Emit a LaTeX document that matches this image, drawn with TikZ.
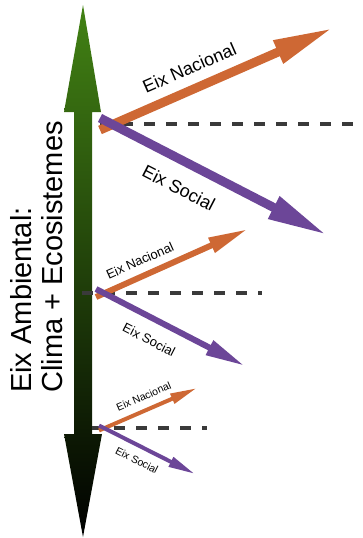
\documentclass[tikz,border=0pt]{standalone}
\usepackage{fontspec}
\setmainfont{Liberation Sans}
\usetikzlibrary{arrows.meta}
\definecolor{ambgreen}{RGB}{66,130,20}
\definecolor{nacorange}{RGB}{206,104,52}
\definecolor{socpurple}{RGB}{108,70,152}
\definecolor{dashgray}{RGB}{58,58,58}
\tikzset{
  eix/.style n args={3}{line width=#1pt, -{Triangle[length=#2pt,width=#3pt]}},
  nac/.style={draw=nacorange, fill=nacorange},
  soc/.style={draw=socpurple, fill=socpurple},
  fita/.style={draw=dashgray, line width=#1pt, dash pattern=on 11pt off 11pt},
}
\begin{document}
\begin{tikzpicture}[x=1pt,y=-1pt]
\useasboundingbox (0,0) rectangle (362,538);
% eix ambiental
\shade[top color=ambgreen, bottom color=black]
  (83,5) -- (101,112) -- (92,112) -- (92,434) -- (102,434) -- (83,537)
  -- (64,434) -- (74,434) -- (74,112) -- (64,112) -- cycle;
\node[rotate=90, anchor=west, align=left, inner sep=0pt,
  font=\fontsize{29}{31}\selectfont] (amb) at (37,393)
  {Eix Ambiental:\\Clima + Ecosistemes};
% punts
\coordinate (o1) at (100,124);
\coordinate (o2) at (96,293);
\coordinate (o3) at (99,428);
\coordinate (n1) at (333,28);
\coordinate (s1) at (327,235);
\coordinate (n2) at (248,229);
\coordinate (s2) at (245,366);
\coordinate (n3) at (197,388);
\coordinate (s3) at (195,474);
\coordinate (f1) at (362,124);
\coordinate (f2) at (262,293);
\coordinate (f3) at (207,428);
% linies
\draw[fita=4] (o1) -- (f1);
\draw[fita=4] ([xshift=-14pt]o2) -- (f2);
\draw[fita=4.5] ([xshift=-7pt]o3) -- (f3);
% fletxes grans
\draw[nac, eix={9}{60}{23}] ([yshift=-6pt]o1) -- node[sloped, pos=0.42, above=10pt, inner sep=0pt,
  font=\fontsize{18}{18}\selectfont, text=black] (ln1) {Eix Nacional} (n1);
\draw[soc, eix={9}{60}{23}] ([yshift=6pt]o1) -- node[sloped, pos=0.40, below=15pt, inner sep=0pt,
  font=\fontsize{18}{18}\selectfont, text=black] (ls1) {Eix Social} (s1);
% fletxes mitjanes
\draw[nac, eix={6}{40}{15}] ([yshift=-4pt]o2) -- node[sloped, pos=0.33, above=7.5pt, inner sep=0pt,
  font=\fontsize{13}{13}\selectfont, text=black] (ln2) {Eix Nacional} (n2);
\draw[soc, eix={6}{40}{15}] ([yshift=4pt]o2) -- node[sloped, pos=0.42, below=13pt, inner sep=0pt,
  font=\fontsize{13}{13}\selectfont, text=black] (ls2) {Eix Social} (s2);
% fletxes petites
\draw[nac, eix={4}{27}{10}] ([yshift=-2.5pt]o3) -- node[sloped, pos=0.51, above=7.5pt, inner sep=0pt,
  font=\fontsize{10.5}{10.5}\selectfont, text=black] (ln3) {Eix Nacional} (n3);
\draw[soc, eix={4}{27}{10}] ([yshift=2.5pt]o3) -- node[sloped, pos=0.46, below=8pt, inner sep=0pt,
  font=\fontsize{10.5}{10.5}\selectfont, text=black] (ls3) {Eix Social} (s3);
\end{tikzpicture}
\end{document}
